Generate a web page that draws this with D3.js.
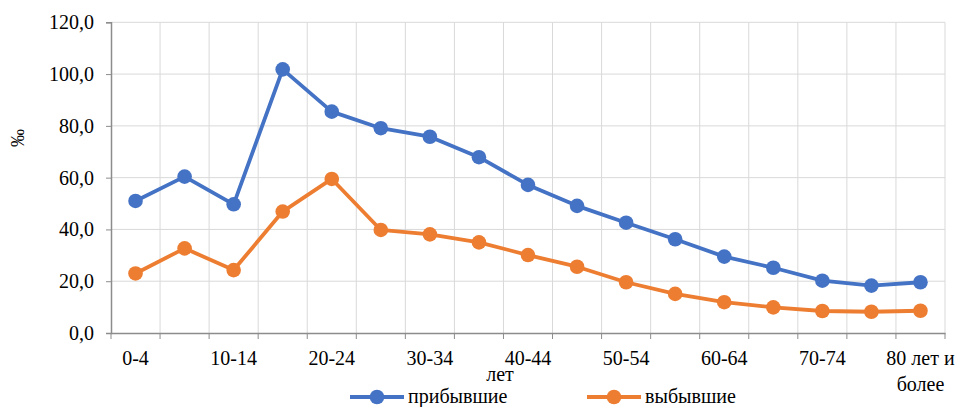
<!DOCTYPE html>
<html><head><meta charset="utf-8">
<script src="https://cdn.jsdelivr.net/npm/d3@7"></script>
<style>html,body{margin:0;padding:0;background:#fff}svg{display:block}svg text{font-family:"Liberation Serif","Times New Roman",serif}</style>
</head><body>
<svg id="c" width="957" height="407"></svg>
<script>
const categories = ["0-4","5-9","10-14","15-19","20-24","25-29","30-34","35-39","40-44","45-49","50-54","55-59","60-64","65-69","70-74","75-79","80 лет и более"];
const arrivedLabel = "прибывшие";
const departedLabel = "выбывшие";
const arrived = [51.0,60.4,49.7,101.8,85.5,79.1,75.8,67.9,57.2,49.1,42.6,36.2,29.5,25.2,20.2,18.3,19.6];
const departed = [23.0,32.7,24.3,46.9,59.5,39.8,38.1,35.0,30.1,25.6,19.6,15.1,11.9,9.9,8.5,8.2,8.6];
const yTicks = [0,20,40,60,80,100,120];
const xTickLabels = ["0-4","","10-14","","20-24","","30-34","","40-44","","50-54","","60-64","","70-74","",["80 лет и","более"]];
const yTitle = "‰";

const svg = d3.select("#c");
const font = "'Liberation Serif','Times New Roman',serif";
const L = 111, R = 945, T = 22.3, B = 333;
const x = d3.scaleBand().domain(categories).range([L, R]);
const y = d3.scaleLinear().domain([0, 120]).range([B, T]);
const grid = "#d9d9d9", axisC = "#8c8c8c";

// horizontal grid
svg.append("g").selectAll("line").data(yTicks.filter(d => d > 0)).join("line")
  .attr("x1", L).attr("x2", R).attr("y1", d => y(d)).attr("y2", d => y(d))
  .attr("stroke", grid).attr("stroke-width", 1);
// vertical grid at boundaries
const bounds = categories.map(c => x(c)).concat([R]).slice(1);
svg.append("g").selectAll("line").data(bounds).join("line")
  .attr("x1", d => d).attr("x2", d => d).attr("y1", T).attr("y2", B)
  .attr("stroke", grid).attr("stroke-width", 1);

// y axis
const yAxis = d3.axisLeft(y).tickValues(yTicks).tickSize(5).tickPadding(12)
  .tickFormat(d => d3.format(".1f")(d).replace(".", ","));
const gy = svg.append("g").attr("transform", `translate(${L},0)`).call(yAxis);
gy.select(".domain").attr("stroke", axisC).attr("stroke-width", 1.5);
gy.selectAll(".tick line").attr("stroke", axisC).attr("stroke-width", 1);
gy.selectAll(".tick text").attr("font-family", font).attr("font-size", 20).attr("fill", "#000");

// x axis
const xAxis = d3.axisBottom(x).tickSize(0).tickFormat(() => "");
const gx = svg.append("g").attr("transform", `translate(0,${B})`).call(xAxis);
gx.select(".domain").attr("stroke", axisC).attr("stroke-width", 1.5);
svg.append("g").selectAll("line").data([L].concat(bounds)).join("line")
  .attr("x1", d => d).attr("x2", d => d).attr("y1", B).attr("y2", B + 6)
  .attr("stroke", axisC).attr("stroke-width", 1);
const xl = svg.append("g").attr("font-family", font).attr("font-size", 20).attr("fill", "#000").attr("text-anchor", "middle");
xTickLabels.forEach((lab, i) => {
  if (!lab) return;
  const cx = x(categories[i]) + x.bandwidth() / 2;
  const lines = Array.isArray(lab) ? lab : [lab];
  lines.forEach((t, j) => {
    xl.append("text").attr("x", cx).attr("y", 365 + j * 26).text(t);
  });
});
// wrapped fragment of the 40-44 label
xl.append("text").attr("x", x(categories[8]) + x.bandwidth() / 2 - 28).attr("y", 381).text("лет");

// y title
svg.append("text").attr("transform", "translate(24,138) rotate(-90)")
  .attr("text-anchor", "middle").attr("font-family", font).attr("font-size", 18).attr("fill", "#000").text(yTitle);

// series
const cxf = (d, i) => x(categories[i]) + x.bandwidth() / 2;
const series = [{v: arrived, c: "#4472C4", name: arrivedLabel}, {v: departed, c: "#ED7D31", name: departedLabel}];
series.forEach(s => {
  const line = d3.line().x((d, i) => cxf(d, i)).y(d => y(d));
  svg.append("path").datum(s.v).attr("d", line).attr("fill", "none")
    .attr("stroke", s.c).attr("stroke-width", 3.8).attr("stroke-linejoin", "round");
  svg.append("g").selectAll("circle").data(s.v).join("circle")
    .attr("cx", (d, i) => cxf(d, i)).attr("cy", d => y(d)).attr("r", 7.3).attr("fill", s.c);
});

// legend
const lg = svg.append("g").attr("font-family", font).attr("font-size", 20).attr("fill", "#000");
[{x0: 350, s: series[0]}, {x0: 587, s: series[1]}].forEach(o => {
  lg.append("line").attr("x1", o.x0).attr("x2", o.x0 + 54).attr("y1", 397).attr("y2", 397)
    .attr("stroke", o.s.c).attr("stroke-width", 3.8);
  lg.append("circle").attr("cx", o.x0 + 27).attr("cy", 397).attr("r", 7.3).attr("fill", o.s.c);
  lg.append("text").attr("x", o.x0 + 58).attr("y", 403).text(o.s.name);
});
</script>
</body></html>
